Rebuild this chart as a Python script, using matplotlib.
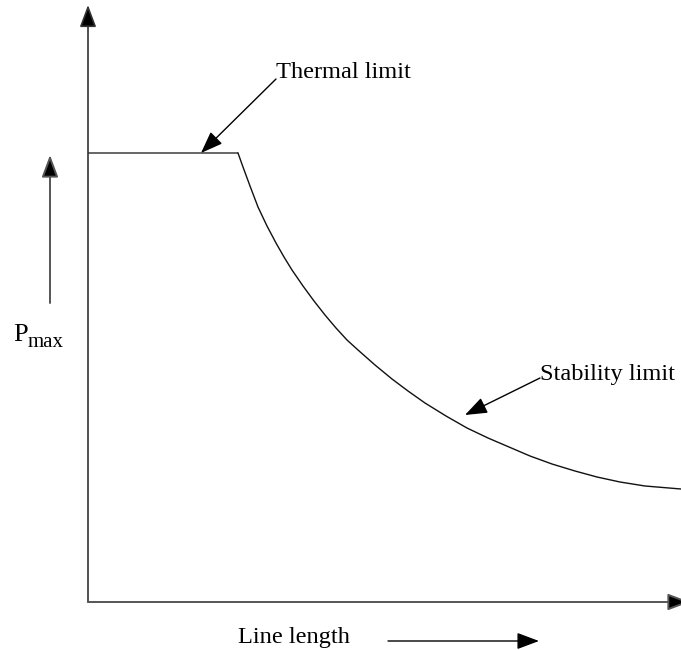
import matplotlib
matplotlib.use("Agg")
import matplotlib.pyplot as plt
from matplotlib.patches import ArrowStyle

# P_max vs line length sketch: thermal limit (flat) then stability limit (falling)
# data units: one unit ~ one pixel, origin at the axes corner

thermal_x = [0, 150]
thermal_y = [449, 449]

stability_x = [150, 155, 162, 170, 179, 188, 196, 204, 215, 226, 237, 248, 259, 270, 287,
               304, 320, 337, 358, 379, 400, 421, 442, 464, 487, 509, 532, 557, 593]
stability_y = [449, 435, 416, 395, 376, 359, 345, 332, 316, 301, 287, 274, 262, 252, 237,
               223, 211, 199, 186, 174, 164, 155, 146, 138, 131, 125, 120, 116, 113]

labels = {
    "thermal": "Thermal limit",
    "stability": "Stability limit",
    "xlabel": "Line length",
}

FONT = "Liberation Serif"
FS = 17.6
HEAD = ArrowStyle("-|>", head_length=0.4, head_width=0.15)


def arrow(ax, tail, tip, color="#444444", lw=1.2):
    ax.annotate("", xy=tip, xytext=tail, annotation_clip=False,
                arrowprops=dict(arrowstyle=HEAD, mutation_scale=34, color=color,
                                lw=lw, shrinkA=0, shrinkB=0,
                                fc="black", ec=color))


fig = plt.figure(figsize=(6.81, 6.5), dpi=100)
ax = fig.add_axes([0, 0, 1, 1])
ax.set_xlim(-88, 593)
ax.set_ylim(-48, 602)
ax.axis("off")

# axes with arrow heads
arrow(ax, (0, 0), (0, 597), color="#333333")
arrow(ax, (0, 0), (602, 0), color="#555555", lw=1.4)

# curves
ax.plot(thermal_x, thermal_y, color="#666666", lw=1.4, solid_capstyle="butt")
ax.plot(stability_x, stability_y, color="#111111", lw=1.0)

# callouts
arrow(ax, (188, 523), (113, 449), color="black", lw=1.0)
ax.text(188, 524, labels["thermal"], family=FONT, fontsize=FS, va="baseline", ha="left")

arrow(ax, (452, 224), (377, 187), color="black", lw=1.0)
ax.text(452, 222, labels["stability"], family=FONT, fontsize=FS, va="baseline", ha="left")

# axis labels with direction arrows
ax.text(150, -41, labels["xlabel"], family=FONT, fontsize=FS, va="baseline", ha="left")
arrow(ax, (300, -39), (451, -39), color="black", lw=1.0)

arrow(ax, (-38, 299), (-38, 447), color="#555555", lw=1.4)
ax.text(-75, 261, "P", family=FONT, fontsize=19, va="baseline", ha="left")
ax.text(-60, 255, "max", family=FONT, fontsize=15, va="baseline", ha="left")

fig.savefig("out.png", dpi=100)
